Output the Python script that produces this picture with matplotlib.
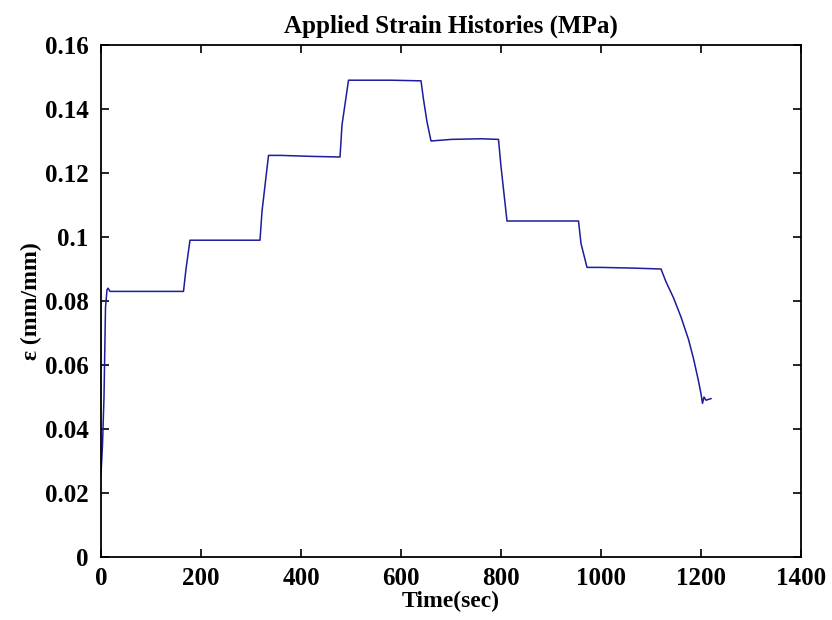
import matplotlib
matplotlib.use("Agg")
import matplotlib.pyplot as plt

time_sec = [0, 3, 6, 9, 12, 14, 18, 60, 120, 165, 170, 178, 200, 260, 318, 322, 335, 360,
            420, 478, 482, 495, 520, 580, 640, 645, 652, 660, 700, 760, 795, 800, 812,
            850, 900, 955, 960, 972, 1000, 1060, 1120, 1130, 1145, 1160, 1175, 1185, 1195,
            1200, 1203, 1206, 1210, 1220]
strain = [0.026, 0.035, 0.05, 0.078, 0.0835, 0.084, 0.083, 0.083, 0.083, 0.083, 0.09, 0.099, 0.099,
          0.099, 0.099, 0.108, 0.1255, 0.1255, 0.1252, 0.125, 0.135, 0.149, 0.149, 0.149, 0.1488,
          0.143, 0.136, 0.130, 0.1305, 0.1307, 0.1305, 0.122, 0.105, 0.105, 0.105, 0.105, 0.098,
          0.0905, 0.0905, 0.0903, 0.090, 0.086, 0.081, 0.075, 0.068, 0.062, 0.055, 0.051, 0.048,
          0.050, 0.049, 0.0495]

x_ticks = [0, 200, 400, 600, 800, 1000, 1200, 1400]
y_ticks = [0, 0.02, 0.04, 0.06, 0.08, 0.1, 0.12, 0.14, 0.16]
y_tick_labels = ["0", "0.02", "0.04", "0.06", "0.08", "0.1", "0.12", "0.14", "0.16"]

plt.rcParams['font.family'] = ['Liberation Serif', 'DejaVu Serif']
plt.rcParams['font.weight'] = 'bold'

fig = plt.figure(figsize=(8.32, 6.2), dpi=100)
ax = fig.add_axes([101/832, 1-557/620, 700/832, 512/620])
ax.plot(time_sec, strain, color='#1c1c9c', linewidth=1.1)
ax.set_xlim(0, 1400)
ax.set_ylim(0, 0.16)
ax.set_xticks(x_ticks)
ax.set_xticklabels([str(v) for v in x_ticks])
ax.set_yticks(y_ticks)
ax.set_yticklabels(y_tick_labels)
ax.tick_params(direction='in', top=True, right=True, length=6, width=1.2, labelsize=18)
ax.tick_params(axis='x', pad=7)
ax.tick_params(axis='y', pad=9)
for s in ax.spines.values():
    s.set_linewidth(1.3)
ax.set_xlabel("Time(sec)", fontsize=17, fontweight='bold', labelpad=1)
ax.set_ylabel("ε (mm/mm)", fontsize=17, fontweight='bold', labelpad=2)
ax.set_title("Applied Strain Histories (MPa)", fontsize=18, fontweight='bold', pad=9)
fig.savefig("out.png", dpi=100)
